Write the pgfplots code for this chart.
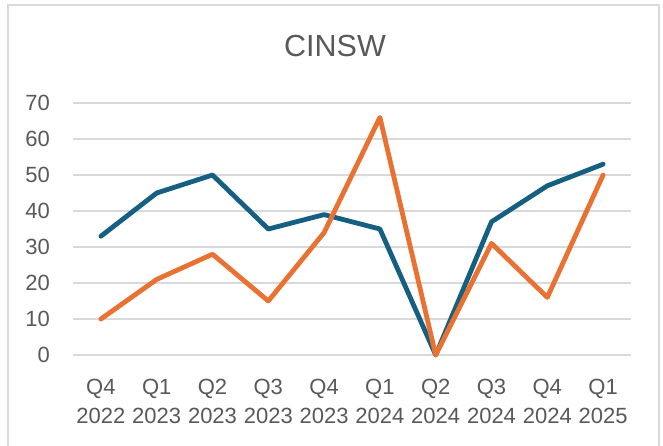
\documentclass[border=0pt]{standalone}
\usepackage{fontspec}
\setmainfont{Liberation Sans}
\usepackage{pgfplots}
\pgfplotsset{compat=1.18}

\definecolor{lineblue}{HTML}{156082}
\definecolor{lineorange}{HTML}{E97132}
\definecolor{gridgray}{HTML}{D9D9D9}
\definecolor{txtgray}{HTML}{595959}

\begin{document}
\begin{tikzpicture}[x=1pt,y=1pt]
\clip (0,0) rectangle (663,445);
\useasboundingbox (0,0) rectangle (663,445);
\fill[white] (0,0) rectangle (663,445);
\draw[gridgray, line width=1.5pt] (8,-10) rectangle (659,440);
\node[anchor=base, text=txtgray, font=\fontsize{30.5}{34}\selectfont, inner sep=0pt] at (335,388) {CINSW};
\begin{axis}[
  at={(73pt,90pt)}, anchor=south west,
  scale only axis, width=558pt, height=252pt,
  xmin=-0.5, xmax=9.5, ymin=0, ymax=70,
  ytick={0,10,...,70},
  xtick={0,...,9},
  xticklabels={Q4\\2022,Q1\\2023,Q2\\2023,Q3\\2023,Q4\\2023,Q1\\2024,Q2\\2024,Q3\\2024,Q4\\2024,Q1\\2025},
  axis line style={draw=none},
  major tick length=0pt,
  ymajorgrids, grid style={gridgray, line width=1.5pt},
  tick label style={text=txtgray},
  /pgf/number format/assume math mode=true,
  xticklabel style={align=center, font=\fontsize{22}{29}\selectfont, inner sep=0pt, anchor=north, yshift=-24pt},
  yticklabel style={font=\fontsize{22}{25}\selectfont, inner sep=0pt, anchor=east, xshift=-23pt},
  clip=false,
]
\addplot[lineblue, line width=4.8pt, line join=round, line cap=round] coordinates {
  (0,33) (1,45) (2,50) (3,35) (4,39) (5,35) (6,0) (7,37) (8,47) (9,53)};
\addplot[lineorange, line width=4.8pt, line join=round, line cap=round] coordinates {
  (0,10) (1,21) (2,28) (3,15) (4,34) (5,66) (6,0) (7,31) (8,16) (9,50)};
\end{axis}
\end{tikzpicture}
\end{document}
